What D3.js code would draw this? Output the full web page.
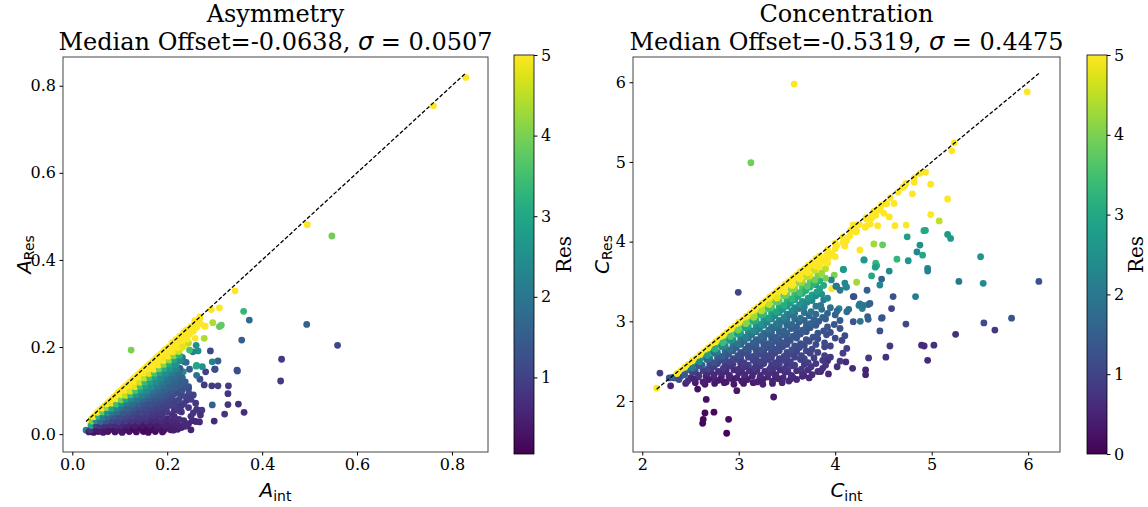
<!DOCTYPE html>
<html><head><meta charset="utf-8">
<script src="https://cdn.jsdelivr.net/npm/d3@7"></script>
<style>body{margin:0;background:#fff}svg{display:block}</style>
</head><body><svg id="chart" width="1148" height="507"></svg>
<script>
// ---------------- DATA ----------------
const asymTitle = ["Asymmetry", "Median Offset=-0.0638, ", "0.0507"];
const concTitle = ["Concentration", "Median Offset=-0.5319, ", "0.4475"];
const asymXTicks = [0.0, 0.2, 0.4, 0.6, 0.8];
const asymYTicks = [0.0, 0.2, 0.4, 0.6, 0.8];
const concXTicks = [2, 3, 4, 5, 6];
const concYTicks = [2, 3, 4, 5, 6];
const asymCbTicks = [1, 2, 3, 4, 5];
const concCbTicks = [0, 1, 2, 3, 4, 5];
const asymXLim = [-0.0196, 0.876];
const asymYLim = [-0.041, 0.866];
const concXLim = [1.904, 6.33];
const concYLim = [1.36, 6.317];
const asymResLim = [0.05, 5];
const concResLim = [0, 5];

// [A_int, A_Res, Res]
const asymmetryPoints = [
[0.829,0.819,5],[0.761,0.754,5],[0.495,0.481,5],[0.547,0.455,3.9],[0.343,0.329,5],[0.310,0.290,5],[0.293,0.286,5],[0.361,0.282,3.3],[0.373,0.262,1.7],[0.494,0.252,1.6],[0.559,0.204,1.1],[0.441,0.172,0.9],[0.439,0.122,0.9],[0.357,0.216,1.5],[0.348,0.145,1.4],[0.362,0.050,0.7],[0.350,0.069,0.7],[0.328,0.068,0.8],[0.321,0.046,0.8],[0.299,0.030,0.6],[0.295,0.067,1.6],[0.328,0.093,0.8],[0.329,0.111,0.9],[0.307,0.111,1.0],[0.294,0.111,0.9],[0.300,0.149,1.0],[0.307,0.168,1.6],[0.295,0.166,2.2],[0.291,0.191,1.1],[0.281,0.143,1.0],[0.269,0.126,1.2],[0.274,0.155,2.5],[0.262,0.158,2.8],[0.265,0.191,2.5],[0.254,0.189,2.2],[0.261,0.204,2.5],[0.247,0.193,3.5],[0.278,0.220,4.4],[0.296,0.256,4.4],[0.310,0.247,3.8],[0.314,0.250,3.8],[0.279,0.248,5],[0.258,0.260,5],[0.269,0.269,5],[0.238,0.237,5],[0.255,0.236,5],[0.259,0.220,5],[0.227,0.219,5],[0.234,0.204,5],[0.240,0.207,5],[0.124,0.193,4.0],[0.222,0.179,3.0],[0.236,0.166,2.0],[0.240,0.165,1.8],[0.217,0.139,1.6],[0.234,0.143,2.4],[0.213,0.113,5],[0.175,0.097,5],[0.246,0.093,1.2],[0.241,0.078,0.8],[0.224,0.054,1.6],[0.268,0.054,0.9],[0.273,0.055,0.9],[0.268,0.028,0.6],[0.253,0.031,0.6],[0.238,0.018,0.6],[0.217,0.013,0.5],[0.278,0.113,0.9],[0.262,0.057,0.8],[0.213,0.009,0.5],[0.199,0.025,0.5],[0.185,0.017,0.4],[0.220,0.070,1.0],[0.224,0.105,1.4],[0.227,0.124,1.7],[0.245,0.109,1.3],[0.262,0.135,1.9],[0.255,0.090,1.0],[0.227,0.151,1.5],[0.247,0.149,1.5],[0.301,0.149,1.2],[0.347,0.147,1.2],[0.261,0.156,3.0],[0.215,0.177,2.5],[0.252,0.239,5],[0.280,0.248,5],[0.029,0.009,2.3],[0.038,0.021,5],
[0.035,0.005,0.4],[0.045,0.004,0.3],[0.055,0.006,0.3],[0.065,0.004,0.4],[0.075,0.006,0.3],[0.090,0.005,0.3],[0.105,0.004,0.35],[0.120,0.006,0.3],[0.135,0.005,0.25],[0.150,0.006,0.3],[0.160,0.004,0.2],[0.175,0.006,0.2],[0.190,0.005,0.25],
[0.042,0.015,0.6],[0.052,0.014,0.5],[0.062,0.016,0.5],[0.072,0.015,0.5],[0.085,0.014,0.5],[0.098,0.016,0.45],[0.110,0.015,0.4],[0.125,0.014,0.4],[0.140,0.016,0.2],[0.155,0.014,0.2],[0.170,0.016,0.3],[0.185,0.015,0.4],[0.200,0.014,0.4],[0.215,0.016,0.5],[0.230,0.015,0.5],
[0.045,0.025,2.0],[0.055,0.026,1.5],[0.065,0.024,1.2],[0.078,0.025,1.0],[0.090,0.026,0.9],[0.105,0.024,0.8],[0.118,0.025,0.7],[0.130,0.026,0.6],[0.145,0.024,0.6],[0.160,0.025,0.5],[0.175,0.026,0.5],[0.190,0.024,0.6],[0.205,0.025,0.5],[0.220,0.026,0.6],[0.245,0.024,0.6],
[0.040,0.035,5],[0.050,0.034,3.0],[0.060,0.036,2.0],[0.070,0.035,1.6],[0.082,0.034,1.3],[0.095,0.036,1.2],[0.108,0.035,1.0],[0.120,0.034,0.9],[0.135,0.036,0.9],[0.150,0.035,0.8],[0.165,0.034,0.7],[0.180,0.036,0.7],[0.200,0.035,0.6],[0.225,0.034,0.7],
[0.050,0.045,5],[0.060,0.044,3.5],[0.070,0.046,2.5],[0.080,0.045,1.8],[0.092,0.044,1.5],[0.105,0.046,1.3],[0.118,0.045,1.2],[0.130,0.044,1.0],[0.145,0.046,1.0],[0.160,0.045,0.9],[0.175,0.044,0.8],[0.190,0.046,0.8],[0.210,0.045,0.7],[0.270,0.044,0.7],
[0.058,0.055,5],[0.068,0.054,4.0],[0.078,0.056,2.8],[0.088,0.055,2.2],[0.100,0.054,1.8],[0.112,0.056,1.5],[0.125,0.055,1.3],[0.138,0.054,1.2],[0.150,0.056,1.1],[0.165,0.055,1.0],[0.180,0.054,0.9],[0.195,0.056,1.0],[0.215,0.055,0.8],
[0.068,0.065,5],[0.078,0.064,4.5],[0.088,0.066,3.2],[0.098,0.065,2.5],[0.110,0.064,2.0],[0.122,0.066,1.7],[0.135,0.065,1.5],[0.148,0.064,1.3],[0.160,0.066,1.2],[0.175,0.065,1.1],[0.190,0.064,1.0],[0.205,0.066,0.9],[0.230,0.065,0.8],
[0.078,0.075,5],[0.088,0.074,5],[0.098,0.076,3.8],[0.108,0.075,2.8],[0.120,0.074,2.3],[0.132,0.076,1.9],[0.145,0.075,1.6],[0.158,0.074,1.4],[0.170,0.076,1.3],[0.185,0.075,1.2],[0.200,0.074,1.1],[0.215,0.076,1.0],
[0.088,0.085,5],[0.098,0.084,5],[0.108,0.086,4.2],[0.118,0.085,3.2],[0.130,0.084,2.6],[0.142,0.086,2.1],[0.155,0.085,1.8],[0.168,0.084,1.5],[0.180,0.086,1.4],[0.195,0.085,1.3],[0.210,0.084,1.0],[0.240,0.086,1.0],
[0.097,0.095,5],[0.107,0.094,5],[0.117,0.096,4.6],[0.128,0.095,3.5],[0.140,0.094,2.8],[0.152,0.096,2.3],[0.165,0.095,2.0],[0.178,0.094,1.6],[0.190,0.096,1.5],[0.205,0.095,1.3],[0.220,0.094,1.2],
[0.107,0.105,5],[0.117,0.104,5],[0.128,0.106,4.8],[0.138,0.105,3.6],[0.150,0.104,2.9],[0.162,0.106,2.5],[0.175,0.105,2.1],[0.188,0.104,1.8],[0.200,0.106,1.6],[0.215,0.105,1.5],[0.245,0.104,1.2],
[0.117,0.115,5],[0.127,0.114,5],[0.137,0.116,4.5],[0.148,0.115,3.3],[0.160,0.114,2.8],[0.172,0.116,2.4],[0.185,0.115,2.0],[0.198,0.114,1.8],[0.212,0.116,1.6],[0.225,0.115,1.4],
[0.127,0.125,5],[0.137,0.124,5],[0.147,0.126,4.6],[0.158,0.125,3.5],[0.170,0.124,2.9],[0.182,0.126,2.4],[0.195,0.125,2.1],[0.210,0.124,1.8],[0.228,0.126,1.5],
[0.137,0.135,5],[0.147,0.134,5],[0.157,0.136,4.4],[0.168,0.135,3.4],[0.180,0.134,2.9],[0.192,0.136,2.4],[0.205,0.135,2.0],[0.220,0.134,1.7],
[0.147,0.145,5],[0.157,0.144,5],[0.167,0.146,5],[0.178,0.145,3.8],[0.190,0.144,3.0],[0.200,0.146,2.5],[0.215,0.145,2.2],
[0.157,0.155,5],[0.167,0.154,5],[0.177,0.156,5],[0.188,0.155,4.0],[0.200,0.154,3.2],[0.210,0.156,2.6],
[0.167,0.165,5],[0.177,0.164,5],[0.187,0.166,5],[0.198,0.165,4.3],[0.210,0.164,3.0],[0.222,0.166,2.6],
[0.177,0.175,5],[0.187,0.174,5],[0.197,0.176,5],[0.210,0.175,4.0],[0.222,0.174,3.0],[0.232,0.176,2.0],
[0.187,0.185,5],[0.197,0.184,5],[0.207,0.186,5],[0.220,0.185,4.2],
[0.197,0.195,5],[0.207,0.194,5],[0.218,0.196,5],[0.228,0.195,5],
[0.210,0.210,5],[0.222,0.208,5],[0.235,0.211,5],[0.245,0.209,4.5],
[0.226,0.225,5],[0.240,0.224,5],[0.242,0.240,5],[0.255,0.238,5],[0.258,0.255,5],[0.270,0.254,5],[0.268,0.265,5],
[0.185,0.160,5],[0.195,0.170,5],[0.205,0.180,5],[0.215,0.190,5],[0.225,0.200,5],[0.160,0.140,5],[0.170,0.150,5],
[0.038,0.010,0.8],[0.050,0.011,0.4],[0.060,0.009,0.4],[0.070,0.010,0.35],[0.082,0.011,0.3],[0.095,0.009,0.35],[0.112,0.010,0.3],[0.128,0.011,0.2],[0.148,0.009,0.15],[0.165,0.010,0.2],[0.178,0.011,0.3],[0.193,0.009,0.3],[0.207,0.010,0.4],[0.222,0.011,0.45],[0.250,0.010,0.5],
[0.040,0.020,3.0],[0.050,0.021,1.0],[0.058,0.019,0.8],[0.068,0.020,0.7],[0.080,0.021,0.7],[0.092,0.019,0.6],[0.103,0.020,0.6],[0.116,0.021,0.5],[0.132,0.019,0.4],[0.147,0.020,0.35],[0.163,0.021,0.4],[0.180,0.019,0.4],[0.195,0.020,0.5],[0.210,0.021,0.5],[0.226,0.019,0.55],[0.240,0.020,0.6],
[0.042,0.030,4.0],[0.050,0.031,2.5],[0.060,0.029,1.8],[0.072,0.030,1.3],[0.084,0.031,1.1],[0.097,0.029,1.0],[0.112,0.030,0.9],[0.126,0.031,0.8],[0.140,0.029,0.7],[0.156,0.030,0.7],[0.172,0.031,0.6],[0.188,0.029,0.6],[0.210,0.030,0.6],[0.235,0.031,0.65],[0.260,0.029,0.6],
[0.045,0.040,5],[0.055,0.041,3.2],[0.065,0.039,2.2],[0.075,0.040,1.7],[0.088,0.041,1.4],[0.100,0.039,1.2],[0.113,0.040,1.1],[0.126,0.041,1.0],[0.140,0.039,0.9],[0.155,0.040,0.9],[0.170,0.041,0.8],[0.187,0.039,0.75],[0.215,0.040,0.7],[0.250,0.041,0.75],
[0.053,0.050,5],[0.064,0.051,3.8],[0.074,0.049,2.6],[0.085,0.050,2.0],[0.096,0.051,1.7],[0.108,0.049,1.4],[0.120,0.050,1.3],[0.132,0.051,1.1],[0.145,0.049,1.05],[0.158,0.050,1.0],[0.172,0.051,0.9],[0.187,0.049,0.85],[0.200,0.050,0.9],[0.230,0.051,0.8],[0.255,0.049,0.8],
[0.063,0.060,5],[0.073,0.061,4.2],[0.083,0.059,3.0],[0.094,0.060,2.3],[0.105,0.061,1.9],[0.117,0.059,1.6],[0.130,0.060,1.4],[0.142,0.061,1.25],[0.155,0.059,1.15],[0.168,0.060,1.05],[0.183,0.061,1.0],[0.198,0.059,0.95],[0.222,0.060,0.9],[0.245,0.061,0.85],
[0.073,0.070,5],[0.083,0.071,4.8],[0.093,0.069,3.5],[0.104,0.070,2.6],[0.115,0.071,2.1],[0.127,0.069,1.8],[0.140,0.070,1.55],[0.152,0.071,1.35],[0.165,0.069,1.25],[0.180,0.070,1.15],[0.195,0.071,1.05],[0.210,0.069,1.0],[0.235,0.070,0.9],[0.260,0.071,0.85],
[0.083,0.080,5],[0.093,0.081,5],[0.103,0.079,4.0],[0.113,0.080,3.0],[0.125,0.081,2.4],[0.137,0.079,2.0],[0.150,0.080,1.7],[0.163,0.081,1.5],[0.175,0.079,1.35],[0.190,0.080,1.25],[0.205,0.081,1.1],[0.225,0.079,1.05],[0.250,0.080,0.95],
[0.093,0.090,5],[0.103,0.091,5],[0.112,0.089,4.5],[0.123,0.090,3.4],[0.135,0.091,2.7],[0.147,0.089,2.2],[0.160,0.090,1.9],[0.172,0.091,1.6],[0.185,0.089,1.45],[0.198,0.090,1.35],[0.213,0.091,1.2],[0.230,0.089,1.1],
[0.102,0.100,5],[0.112,0.101,5],[0.122,0.099,4.7],[0.133,0.100,3.6],[0.145,0.101,2.85],[0.157,0.099,2.4],[0.170,0.100,2.0],[0.183,0.101,1.7],[0.195,0.099,1.55],[0.210,0.100,1.4],[0.232,0.101,1.3],
[0.112,0.110,5],[0.122,0.111,5],[0.132,0.109,4.8],[0.143,0.110,3.5],[0.155,0.111,2.85],[0.167,0.109,2.45],[0.180,0.110,2.05],[0.193,0.111,1.8],[0.206,0.109,1.6],[0.220,0.110,1.45],[0.238,0.111,1.35],
[0.122,0.120,5],[0.132,0.121,5],[0.142,0.119,4.6],[0.153,0.120,3.4],[0.165,0.121,2.85],[0.177,0.119,2.4],[0.190,0.120,2.05],[0.203,0.121,1.8],[0.218,0.119,1.6],[0.238,0.120,1.5],
[0.132,0.130,5],[0.142,0.131,5],[0.152,0.129,4.5],[0.163,0.130,3.5],[0.175,0.131,2.9],[0.187,0.129,2.4],[0.200,0.130,2.0],[0.213,0.131,1.8],[0.232,0.129,1.6],
[0.142,0.140,5],[0.152,0.141,5],[0.162,0.139,4.8],[0.173,0.140,3.6],[0.185,0.141,2.95],[0.197,0.139,2.45],[0.210,0.140,2.1],[0.225,0.141,1.8],
[0.152,0.150,5],[0.162,0.151,5],[0.172,0.149,5],[0.183,0.150,3.9],[0.195,0.151,3.1],[0.206,0.149,2.6],[0.220,0.150,2.2],
[0.162,0.160,5],[0.172,0.161,5],[0.182,0.159,5],[0.193,0.160,4.1],[0.205,0.161,3.1],[0.217,0.159,2.6],
[0.172,0.170,5],[0.182,0.171,5],[0.192,0.169,5],[0.204,0.170,4.2],[0.216,0.171,3.0],[0.228,0.169,2.4],
[0.182,0.180,5],[0.192,0.181,5],[0.202,0.179,5],[0.214,0.180,4.1],[0.226,0.181,3.2],
[0.192,0.190,5],[0.202,0.191,5],[0.212,0.189,5],[0.224,0.190,4.6],
[0.203,0.200,5],[0.213,0.201,5],[0.223,0.199,5],[0.233,0.200,4.8],
[0.218,0.217,5],[0.230,0.215,5],[0.242,0.218,5],[0.234,0.232,5],[0.247,0.230,5],[0.250,0.247,5],[0.262,0.245,5]
];

// [C_int, C_Res, Res]
const concentrationPoints = [
[3.575,5.977,5],[5.99,5.88,5],[3.126,4.99,3.9],[5.233,5.24,5],[5.209,5.14,5],[4.937,4.87,5],[4.878,4.857,5],[4.99,4.72,5],[4.819,4.744,5],[4.733,4.73,5],[4.70,4.68,5],[4.80,4.60,5],[5.165,4.535,5],[4.99,4.34,5],[5.078,4.26,4.5],[4.533,4.476,5],[4.429,4.397,5],[4.505,4.355,5],[4.619,4.2,5],[4.736,4.208,5],[4.38,4.3,5],[4.31,4.18,5],[4.44,4.2,5],[4.186,4.21,5],[4.222,4.133,5],[4.919,4.137,3.1],[4.935,4.14,3.0],[4.746,4.06,2.8],[5.165,4.09,2.7],[5.196,4.04,2.7],[4.401,3.97,4.3],[4.491,3.96,3.8],[4.256,3.895,5],[4.878,3.957,2.5],[4.847,3.87,2.3],[4.906,3.83,3.0],[4.64,3.78,3.3],[4.757,3.76,2.6],[5.507,3.81,2.6],[4.30,3.77,2.7],[4.42,3.73,3.3],[4.43,3.70,3.2],[4.087,3.65,2.7],[4.56,3.63,2.4],[4.958,3.665,2.3],[4.958,3.63,2.2],[4.377,3.57,3.0],[4.222,3.49,4.3],[4.481,3.53,1.6],[4.463,3.456,2.3],[5.282,3.50,2.0],[5.534,3.477,2.4],[6.111,3.50,1.3],[3.963,3.41,5],[4.11,3.43,1.7],[4.014,3.44,2.0],[4.33,3.39,1.5],[4.187,3.31,1.3],[4.60,3.31,1.3],[4.833,3.31,2.1],[4.36,3.225,1.5],[4.246,3.2,2.1],[4.28,3.16,2.2],[4.584,3.16,1.0],[4.04,3.16,2.3],[4.14,3.15,1.8],[4.12,3.12,1.8],[4.487,3.045,1.4],[4.342,3.025,1.5],[4.26,3.0,1.9],[4.733,2.966,1.1],[5.541,2.98,1.1],[5.828,3.04,1.3],[5.655,2.89,0.8],[5.248,2.837,0.7],[4.463,2.88,1.2],[4.567,2.69,0.8],[4.895,2.70,0.6],[4.922,2.69,0.6],[5.023,2.70,0.7],[4.958,2.51,0.6],[4.525,2.55,0.7],[4.346,2.54,0.8],[4.18,2.41,0.6],[4.315,2.39,0.5],[4.315,2.33,0.5],[4.11,2.49,0.6],[3.921,2.505,0.6],[3.849,2.37,0.5],[3.73,2.29,0.6],[3.676,2.32,0.6],[3.54,2.28,0.5],[3.362,2.05,0.3],[2.98,2.13,0.3],[2.663,2.02,0.2],[2.65,1.85,0.1],[2.743,1.86,0.1],[2.632,1.77,0.1],[2.626,1.72,0.1],[2.895,1.77,0.15],[2.875,1.595,0.05],[2.574,2.15,0.2],[2.294,2.19,0.5],[2.183,2.35,0.9],[2.149,2.16,5],[2.28,2.29,1.2],[2.33,2.29,1.3],[2.995,3.364,1.0],
[4.297,3.77,2.7],[4.415,3.68,2.8],[4.083,3.65,2.7],[3.99,3.58,4.0],[4.10,3.48,2.3],[4.118,3.43,2.3],[4.05,3.39,2.0],[3.96,3.52,2.3],[4.007,3.44,2.0],[3.90,3.54,4.0],[4.48,3.04,1.3],[4.342,3.21,1.6],[4.29,3.2,2.0],[4.256,3.22,2.0],[4.336,3.06,1.5],[4.187,2.995,1.3],[4.194,3.31,1.2],[3.696,3.39,2.2],[3.797,3.46,2.7],
[4.325,4.28,5],[4.377,4.31,5],[4.419,4.33,5],[4.47,4.40,5],[4.56,4.31,5],[4.61,4.48,5],[4.232,4.21,5],[4.215,4.12,5],[4.318,4.19,5],[4.363,4.22,5],[4.10,3.945,5],[4.084,3.99,5],[4.118,4.01,5],[4.014,3.95,5],[3.963,3.85,5],[3.93,3.80,5],[3.893,3.75,5],[3.841,3.71,5],[3.807,3.69,5],
[2.45,2.22,0.5],[2.55,2.23,0.4],[2.65,2.21,0.35],[2.75,2.22,0.3],[2.85,2.23,0.3],[2.95,2.21,0.3],[3.05,2.22,0.35],[3.15,2.23,0.4],[3.25,2.21,0.45],[3.35,2.22,0.4],[3.45,2.23,0.5],
[2.32,2.30,1.6],[2.40,2.31,1.0],[2.50,2.29,0.7],[2.58,2.30,0.6],[2.66,2.31,0.5],[2.74,2.29,0.5],[2.82,2.30,0.45],[2.90,2.31,0.4],[2.98,2.29,0.45],[3.06,2.30,0.5],[3.14,2.31,0.5],[3.22,2.29,0.5],[3.30,2.30,0.55],[3.38,2.31,0.5],[3.46,2.29,0.6],[3.56,2.30,0.6],[3.66,2.31,0.55],
[2.40,2.38,5],[2.47,2.39,1.8],[2.55,2.37,1.2],[2.63,2.38,0.9],[2.71,2.39,0.8],[2.79,2.37,0.7],[2.87,2.38,0.6],[2.95,2.39,0.6],[3.03,2.37,0.65],[3.11,2.38,0.7],[3.19,2.39,0.7],[3.27,2.37,0.7],[3.35,2.38,0.75],[3.43,2.39,0.7],[3.51,2.37,0.8],[3.60,2.38,0.7],[3.72,2.39,0.7],[3.82,2.37,0.65],
[2.48,2.46,5],[2.55,2.47,2.2],[2.62,2.45,1.5],[2.70,2.46,1.1],[2.78,2.47,1.0],[2.86,2.45,0.9],[2.94,2.46,0.85],[3.02,2.47,0.8],[3.10,2.45,0.9],[3.18,2.46,0.85],[3.26,2.47,0.9],[3.34,2.45,0.85],[3.42,2.46,0.9],[3.50,2.47,0.8],[3.58,2.45,0.9],[3.68,2.46,0.85],[3.80,2.47,0.8],[3.90,2.45,0.8],
[2.56,2.54,5],[2.63,2.55,2.6],[2.70,2.53,1.8],[2.78,2.54,1.4],[2.86,2.55,1.2],[2.94,2.53,1.1],[3.02,2.54,1.0],[3.10,2.55,1.0],[3.18,2.53,1.05],[3.26,2.54,1.0],[3.34,2.55,1.0],[3.42,2.53,0.95],[3.50,2.54,1.0],[3.58,2.55,0.9],[3.68,2.53,1.0],[3.78,2.54,0.9],[3.95,2.55,0.85],
[2.64,2.62,5],[2.71,2.63,2.9],[2.78,2.61,2.1],[2.86,2.62,1.6],[2.94,2.63,1.4],[3.02,2.61,1.3],[3.10,2.62,1.2],[3.18,2.63,1.2],[3.26,2.61,1.1],[3.34,2.62,1.15],[3.42,2.63,1.1],[3.50,2.61,1.1],[3.60,2.62,1.0],[3.70,2.63,1.05],[3.82,2.61,1.0],
[2.72,2.70,5],[2.79,2.71,3.3],[2.86,2.69,2.4],[2.94,2.70,1.9],[3.02,2.71,1.6],[3.10,2.69,1.4],[3.18,2.70,1.4],[3.26,2.71,1.3],[3.34,2.69,1.3],[3.42,2.70,1.2],[3.50,2.71,1.2],[3.58,2.69,1.2],[3.68,2.70,1.1],[3.80,2.71,1.1],[3.95,2.69,1.0],
[2.80,2.78,5],[2.87,2.79,3.5],[2.94,2.77,2.6],[3.02,2.78,2.1],[3.10,2.79,1.8],[3.18,2.77,1.6],[3.26,2.78,1.5],[3.34,2.79,1.4],[3.42,2.77,1.4],[3.50,2.78,1.3],[3.60,2.79,1.3],[3.70,2.77,1.2],[3.82,2.78,1.2],[4.00,2.79,1.1],
[2.88,2.86,5],[2.95,2.87,3.8],[3.02,2.85,2.9],[3.10,2.86,2.3],[3.18,2.87,2.0],[3.26,2.85,1.8],[3.34,2.86,1.6],[3.42,2.87,1.5],[3.50,2.85,1.5],[3.60,2.86,1.4],[3.70,2.87,1.3],[3.82,2.85,1.3],[3.95,2.86,1.2],
[2.96,2.94,5],[3.03,2.95,4.0],[3.10,2.93,3.0],[3.18,2.94,2.5],[3.26,2.95,2.2],[3.34,2.93,1.9],[3.42,2.94,1.8],[3.50,2.95,1.6],[3.60,2.93,1.5],[3.70,2.94,1.5],[3.80,2.95,1.4],[3.92,2.93,1.3],
[3.04,3.02,5],[3.11,3.03,4.2],[3.18,3.01,3.2],[3.26,3.02,2.7],[3.34,3.03,2.3],[3.42,3.01,2.1],[3.50,3.02,1.9],[3.58,3.03,1.8],[3.68,3.01,1.6],[3.78,3.02,1.6],[3.90,3.03,1.5],[4.05,3.01,1.4],
[3.12,3.10,5],[3.19,3.11,4.4],[3.26,3.09,3.4],[3.34,3.10,2.9],[3.42,3.11,2.5],[3.50,3.09,2.3],[3.58,3.10,2.0],[3.68,3.11,1.9],[3.80,3.09,1.7],[3.92,3.10,1.6],
[3.20,3.18,5],[3.27,3.19,4.5],[3.34,3.17,3.6],[3.42,3.18,3.0],[3.50,3.19,2.7],[3.58,3.17,2.4],[3.68,3.18,2.2],[3.80,3.19,2.0],[3.95,3.17,1.8],
[3.28,3.26,5],[3.35,3.27,4.6],[3.42,3.25,3.8],[3.50,3.26,3.2],[3.58,3.27,2.9],[3.66,3.25,2.6],[3.76,3.26,2.4],[3.88,3.27,2.1],
[3.36,3.34,5],[3.43,3.35,5],[3.50,3.33,4.0],[3.58,3.34,3.4],[3.66,3.35,3.1],[3.76,3.33,2.8],[3.86,3.34,2.5],
[3.44,3.42,5],[3.51,3.43,5],[3.58,3.41,4.2],[3.66,3.42,3.6],[3.74,3.43,3.2],[3.84,3.41,2.9],
[3.52,3.50,5],[3.59,3.51,5],[3.66,3.49,4.3],[3.74,3.50,3.8],[3.84,3.51,3.2],
[3.60,3.58,5],[3.67,3.59,5],[3.74,3.57,4.8],[3.82,3.58,4.0],
[3.68,3.66,5],[3.75,3.67,5],[3.83,3.65,5],[3.90,3.66,4.5],
[3.76,3.74,5],[3.83,3.75,5],[3.92,3.73,5],[3.84,3.82,5],[3.91,3.83,5],[4.00,3.81,5],
[3.92,3.90,5],[4.00,3.91,5],[4.00,3.98,5],[4.08,3.99,5],[4.08,4.06,5],[4.15,4.07,5],[4.16,4.14,5],[4.25,4.22,5],[4.32,4.30,5],[4.40,4.38,5],[4.48,4.46,5],[4.57,4.55,5],[4.65,4.62,5],[4.72,4.70,5],[4.82,4.80,5],
[2.38,2.27,1.2],[2.47,2.25,0.7],[2.53,2.28,0.5],[2.63,2.24,0.45],[2.69,2.27,0.4],[2.79,2.26,0.35],[2.87,2.24,0.35],[2.93,2.28,0.35],[3.03,2.25,0.4],[3.09,2.27,0.4],[3.19,2.24,0.45],[3.25,2.27,0.45],[3.35,2.25,0.5],[3.41,2.28,0.5],[3.52,2.25,0.55],[3.60,2.27,0.55],
[2.36,2.345,5],[2.44,2.33,1.4],[2.52,2.36,0.9],[2.585,2.32,0.75],[2.68,2.35,0.65],[2.745,2.33,0.6],[2.84,2.36,0.55],[2.905,2.32,0.5],[3.00,2.35,0.55],[3.065,2.33,0.6],[3.16,2.36,0.6],[3.225,2.32,0.6],[3.32,2.35,0.65],[3.385,2.33,0.6],[3.48,2.36,0.7],[3.545,2.32,0.65],[3.66,2.35,0.65],[3.76,2.33,0.6],[3.93,2.34,0.6],
[2.44,2.425,5],[2.52,2.41,2.0],[2.585,2.44,1.3],[2.68,2.40,1.0],[2.745,2.43,0.9],[2.84,2.41,0.8],[2.905,2.44,0.75],[3.00,2.40,0.7],[3.065,2.43,0.75],[3.16,2.41,0.8],[3.225,2.44,0.8],[3.32,2.40,0.8],[3.385,2.43,0.8],[3.48,2.41,0.8],[3.545,2.44,0.85],[3.65,2.40,0.8],[3.75,2.43,0.75],[3.87,2.41,0.7],[4.02,2.43,0.7],
[2.52,2.505,5],[2.595,2.49,2.4],[2.67,2.52,1.6],[2.745,2.48,1.25],[2.83,2.51,1.1],[2.895,2.49,1.0],[2.99,2.52,0.95],[3.055,2.48,0.9],[3.15,2.51,0.95],[3.215,2.49,0.95],[3.31,2.52,0.95],[3.375,2.48,0.9],[3.47,2.51,0.95],[3.535,2.49,0.9],[3.64,2.52,0.95],[3.72,2.48,0.9],[3.87,2.51,0.85],[4.05,2.50,0.8],
[2.60,2.585,5],[2.675,2.57,2.8],[2.745,2.60,1.9],[2.83,2.56,1.5],[2.895,2.59,1.3],[2.99,2.57,1.2],[3.055,2.60,1.1],[3.15,2.56,1.1],[3.215,2.59,1.1],[3.31,2.57,1.05],[3.375,2.60,1.05],[3.47,2.56,1.0],[3.545,2.59,1.0],[3.65,2.57,1.0],[3.74,2.60,0.95],[3.89,2.57,0.9],[4.08,2.60,0.9],
[2.68,2.665,5],[2.755,2.65,3.1],[2.825,2.68,2.3],[2.91,2.64,1.75],[2.975,2.67,1.5],[3.07,2.65,1.35],[3.135,2.68,1.3],[3.23,2.64,1.25],[3.295,2.67,1.2],[3.39,2.65,1.2],[3.455,2.68,1.15],[3.55,2.64,1.15],[3.63,2.67,1.1],[3.76,2.65,1.05],[3.89,2.68,1.0],[4.12,2.66,0.95],
[2.76,2.745,5],[2.835,2.73,3.4],[2.905,2.76,2.5],[2.99,2.72,2.0],[3.055,2.75,1.7],[3.15,2.73,1.5],[3.215,2.76,1.45],[3.31,2.72,1.35],[3.375,2.75,1.3],[3.47,2.73,1.25],[3.535,2.76,1.25],[3.64,2.72,1.15],[3.73,2.75,1.15],[3.89,2.73,1.1],[4.07,2.76,1.05],
[2.84,2.825,5],[2.915,2.81,3.6],[2.985,2.84,2.8],[3.07,2.80,2.2],[3.135,2.83,1.9],[3.23,2.81,1.7],[3.295,2.84,1.55],[3.39,2.80,1.45],[3.455,2.83,1.45],[3.56,2.81,1.35],[3.64,2.84,1.3],[3.77,2.80,1.25],[3.91,2.83,1.2],[4.10,2.82,1.15],
[2.92,2.905,5],[2.995,2.89,3.9],[3.065,2.92,2.95],[3.15,2.88,2.4],[3.215,2.91,2.1],[3.31,2.89,1.85],[3.375,2.92,1.7],[3.47,2.88,1.55],[3.545,2.91,1.5],[3.66,2.89,1.45],[3.74,2.92,1.35],[3.88,2.88,1.3],[4.05,2.91,1.25],
[3.00,2.985,5],[3.075,2.97,4.1],[3.145,3.00,3.1],[3.23,2.96,2.6],[3.295,2.99,2.25],[3.39,2.97,2.0],[3.455,3.00,1.85],[3.55,2.96,1.7],[3.625,2.99,1.55],[3.74,2.97,1.55],[3.83,3.00,1.45],[3.99,2.96,1.4],
[3.08,3.065,5],[3.155,3.05,4.3],[3.225,3.08,3.3],[3.31,3.04,2.8],[3.375,3.07,2.4],[3.47,3.05,2.2],[3.535,3.08,1.95],[3.64,3.04,1.85],[3.73,3.07,1.65],[3.87,3.05,1.55],[4.00,3.08,1.5],
[3.16,3.145,5],[3.235,3.13,4.45],[3.305,3.16,3.5],[3.39,3.12,2.95],[3.455,3.15,2.6],[3.55,3.13,2.35],[3.625,3.16,2.1],[3.75,3.12,1.95],[3.86,3.15,1.75],[4.02,3.13,1.7],
[3.24,3.225,5],[3.315,3.21,4.55],[3.385,3.24,3.7],[3.47,3.20,3.1],[3.535,3.23,2.8],[3.63,3.21,2.5],[3.71,3.24,2.3],[3.85,3.20,2.05],
[3.32,3.305,5],[3.395,3.29,4.8],[3.465,3.32,3.9],[3.55,3.28,3.3],[3.615,3.31,3.0],[3.72,3.29,2.7],[3.80,3.32,2.45],[3.92,3.29,2.3],
[3.40,3.385,5],[3.475,3.37,5],[3.545,3.40,4.1],[3.63,3.36,3.5],[3.695,3.39,3.15],[3.81,3.37,2.85],
[3.48,3.465,5],[3.555,3.45,5],[3.625,3.48,4.25],[3.71,3.44,3.7],[3.78,3.47,3.2],[3.88,3.45,3.0],
[3.56,3.545,5],[3.635,3.53,5],[3.705,3.56,4.5],[3.79,3.52,3.9],
[3.64,3.625,5],[3.715,3.61,5],[3.785,3.64,4.6],[3.86,3.60,4.2],
[3.72,3.705,5],[3.80,3.69,5],[3.80,3.785,5],[3.88,3.77,5]
];

// ---------------- DRAW ----------------
(function () {
const svg = d3.select("#chart");
const serif = "DejaVu Serif, serif";
const sans = "DejaVu Sans, sans-serif";
const axTop = 57, axBottom = 452;

const panels = [
  {pts: asymmetryPoints, title: asymTitle, xLim: asymXLim, yLim: asymYLim, xTicks: asymXTicks, yTicks: asymYTicks,
   cbTicks: asymCbTicks, resLim: asymResLim, left: 63, right: 488, cbX: 514, letter: "A", fmt: d3.format(".1f"),
   ylabX: 31, cbLabX: 571, id: "g0"},
  {pts: concentrationPoints, title: concTitle, xLim: concXLim, yLim: concYLim, xTicks: concXTicks, yTicks: concYTicks,
   cbTicks: concCbTicks, resLim: concResLim, left: 633, right: 1060, cbX: 1087, letter: "C", fmt: d3.format("d"),
   ylabX: 609, cbLabX: 1143, id: "g1"}
];

const defs = svg.append("defs");
panels.forEach(p => {
  const g = defs.append("linearGradient").attr("id", p.id).attr("x1", 0).attr("y1", 1).attr("x2", 0).attr("y2", 0);
  d3.range(0, 1.0001, 0.05).forEach(t => g.append("stop").attr("offset", t).attr("stop-color", d3.interpolateViridis(t)));
});

panels.forEach(p => {
  const x = d3.scaleLinear().domain(p.xLim).range([p.left, p.right]);
  const y = d3.scaleLinear().domain(p.yLim).range([axBottom, axTop]);
  const color = d3.scaleSequential(d3.interpolateViridis).domain(p.resLim).clamp(true);
  const cx = (p.left + p.right) / 2;

  svg.append("g").selectAll("circle").data(p.pts).join("circle")
    .attr("cx", d => x(d[0])).attr("cy", d => y(d[1])).attr("r", 3.4)
    .attr("fill", d => color(d[2]));

  const ext = d3.extent(p.pts, d => d[0]);
  svg.append("path").datum(ext)
    .attr("d", d => d3.line()([[x(d[0]), y(d[0])], [x(d[1]), y(d[1])]]))
    .attr("stroke", "#000").attr("stroke-width", 1.3).attr("stroke-dasharray", "4,2").attr("fill", "none");

  svg.append("rect").attr("x", p.left).attr("y", axTop).attr("width", p.right - p.left).attr("height", axBottom - axTop)
    .attr("fill", "none").attr("stroke", "#444").attr("stroke-width", 1);

  const xa = svg.append("g").attr("transform", `translate(0,${axBottom})`)
    .call(d3.axisBottom(x).tickValues(p.xTicks).tickFormat(p.fmt).tickSize(3.5).tickPadding(3.5));
  const ya = svg.append("g").attr("transform", `translate(${p.left},0)`)
    .call(d3.axisLeft(y).tickValues(p.yTicks).tickFormat(p.fmt).tickSize(3.5).tickPadding(3.5));
  [xa, ya].forEach(a => {
    a.select(".domain").remove();
    a.selectAll("text").style("font-family", serif).style("font-size", "16px").attr("fill", "#000");
    a.selectAll("line").attr("stroke", "#000");
  });

  svg.append("text").attr("x", cx).attr("y", 22).attr("text-anchor", "middle")
    .style("font-family", serif).style("font-size", "24px").text(p.title[0]);
  const t2 = svg.append("text").attr("x", cx).attr("y", 50).attr("text-anchor", "middle")
    .style("font-family", serif).style("font-size", "24px");
  t2.append("tspan").text(p.title[1]);
  t2.append("tspan").style("font-family", sans).style("font-style", "italic").text("σ");
  t2.append("tspan").text(" = " + p.title[2]);

  const xl = svg.append("text").attr("x", cx).attr("y", 497).attr("text-anchor", "middle")
    .style("font-family", sans).style("font-size", "20px");
  xl.append("tspan").style("font-style", "italic").text(p.letter);
  xl.append("tspan").attr("dy", 4).style("font-size", "14px").text("int");

  const yl = svg.append("text").attr("transform", `translate(${p.ylabX},${(axTop + axBottom) / 2}) rotate(-90)`)
    .attr("text-anchor", "middle").style("font-family", sans).style("font-size", "20px");
  yl.append("tspan").style("font-style", "italic").text(p.letter);
  yl.append("tspan").attr("dy", 3).style("font-size", "14px").text("Res");

  const cbY = d3.scaleLinear().domain(p.resLim).range([axBottom + 2, axTop - 2]);
  svg.append("rect").attr("x", p.cbX).attr("y", cbY(p.resLim[1])).attr("width", 20)
    .attr("height", cbY(p.resLim[0]) - cbY(p.resLim[1])).attr("fill", `url(#${p.id})`)
    .attr("stroke", "#000").attr("stroke-width", 0.8);
  const cba = svg.append("g").attr("transform", `translate(${p.cbX + 20},0)`)
    .call(d3.axisRight(cbY).tickValues(p.cbTicks).tickFormat(d3.format("d")).tickSize(3.5).tickPadding(3.5));
  cba.select(".domain").remove();
  cba.selectAll("text").style("font-family", serif).style("font-size", "16px").attr("fill", "#000");
  cba.selectAll("line").attr("stroke", "#000");
  svg.append("text").attr("transform", `translate(${p.cbLabX},${(axTop + axBottom) / 2}) rotate(-90)`)
    .attr("text-anchor", "middle").style("font-family", serif).style("font-size", "20px").text("Res");
});
})();
</script></body></html>
